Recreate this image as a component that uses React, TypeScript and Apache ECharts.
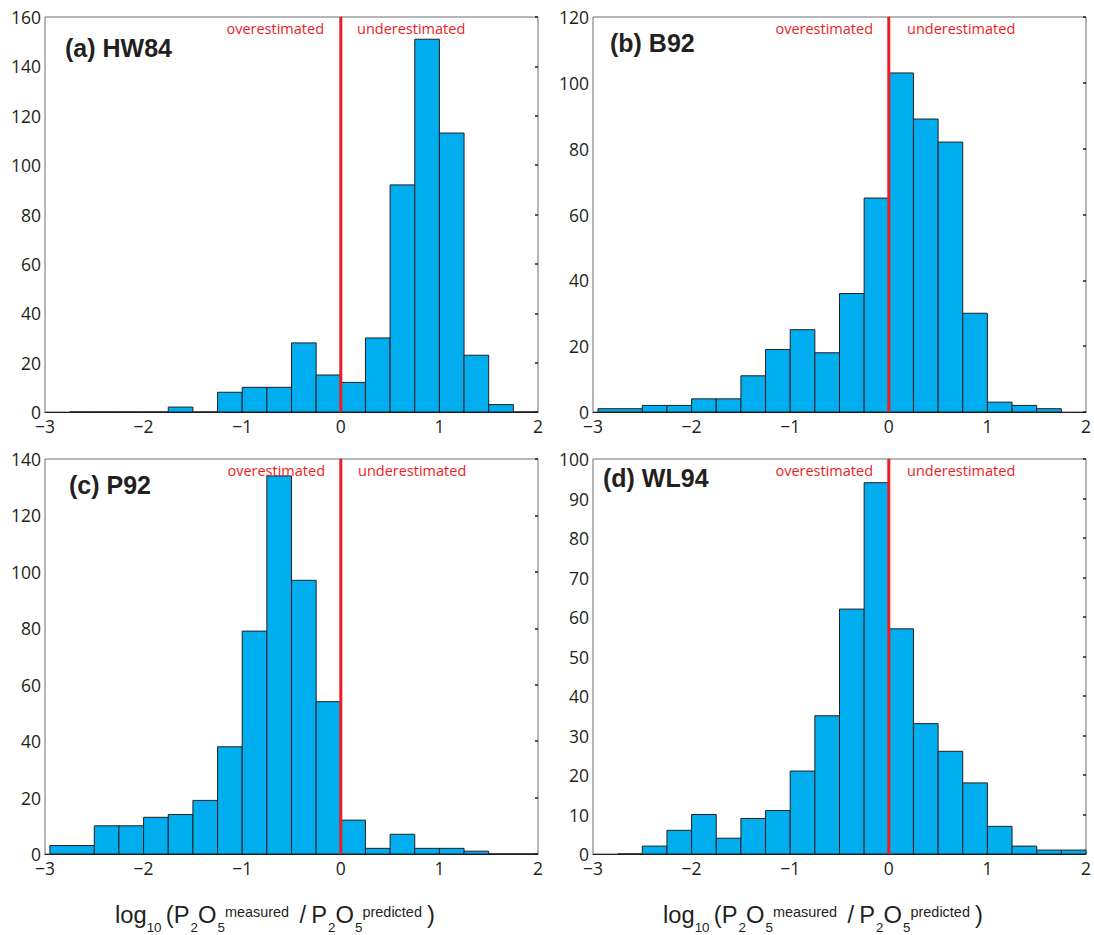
import React, { useEffect, useRef } from "react";
import * as echarts from "echarts";

// ---- data (bin edges along log10 ratio, counts per bin) ----
const edgesA = [-2.75, -2.5, -2.25, -2, -1.75, -1.5, -1.25, -1, -0.75, -0.5, -0.25, 0, 0.25, 0.5, 0.75, 1, 1.25, 1.5, 1.75, 2];
const countsA = [0, 0, 0, 0, 2, 0, 8, 10, 10, 28, 15, 12, 30, 92, 151, 113, 23, 3, 0];

const edgesB = [-2.95, -2.5, -2.25, -2, -1.75, -1.5, -1.25, -1, -0.75, -0.5, -0.25, 0, 0.25, 0.5, 0.75, 1, 1.25, 1.5, 1.75];
const countsB = [1, 2, 2, 4, 4, 11, 19, 25, 18, 36, 65, 103, 89, 82, 30, 3, 2, 1];

const edgesC = [-2.95, -2.5, -2.25, -2, -1.75, -1.5, -1.25, -1, -0.75, -0.5, -0.25, 0, 0.25, 0.5, 0.75, 1, 1.25, 1.5, 1.75, 2];
const countsC = [3, 10, 10, 13, 14, 19, 38, 79, 134, 97, 54, 12, 2, 7, 2, 2, 1, 0, 0];

const edgesD = [-2.75, -2.5, -2.25, -2, -1.75, -1.5, -1.25, -1, -0.75, -0.5, -0.25, 0, 0.25, 0.5, 0.75, 1, 1.25, 1.5, 1.75, 2];
const countsD = [0, 2, 6, 10, 4, 9, 11, 21, 35, 62, 94, 57, 33, 26, 18, 7, 2, 1, 1];

const panelTitles = ["(a) HW84", "(b) B92", "(c) P92", "(d) WL94"];
const yMaxes = [160, 120, 140, 100];
const yIntervals = [20, 20, 20, 10];
const xMin = -3;
const xMax = 2;
const xInterval = 1;
const dividerX = 0;
const leftNote = "overestimated";
const rightNote = "underestimated";

// ---- layout ----
const grids = [
  { left: 45, top: 17, width: 493, height: 395 },
  { left: 593, top: 17, width: 494, height: 395 },
  { left: 45, top: 459, width: 493, height: 395 },
  { left: 593, top: 459, width: 494, height: 395 },
];
const titlePos = [
  { x: 65, y: 48 },
  { x: 610, y: 43 },
  { x: 69, y: 485 },
  { x: 603, y: 478 },
];
const notePos = [
  { over: 324, under: 357, y: 28 },
  { over: 873, under: 907, y: 28 },
  { over: 325, under: 358, y: 470 },
  { over: 873, under: 907, y: 470 },
];
const xLabelCenters = [275, 823];
const xLabelBaseline = 923;

const DARK = "#231f20";
const FRAME = "#6d6e71";
const FILL = "#00aeef";
const RED = "#ed1c24";

function fmtX(v: number) {
  return v < 0 ? "\u2212" + Math.abs(v) : String(v);
}

function buildData(edges: number[], counts: number[]) {
  return counts.map((c, i) => [edges[i], edges[i + 1], c]);
}

function measure(text: string, font: string) {
  const c = document.createElement("canvas").getContext("2d");
  if (!c) return text.length * 10;
  c.font = font;
  return c.measureText(text).width;
}

function axisLabelGraphic(cx: number) {
  const FAM = '"Liberation Sans", Arial, sans-serif';
  const pieces = [
    { t: "log", s: 23, dy: 0, gap: 0 },
    { t: "10", s: 13, dy: 9, gap: 0 },
    { t: "(", s: 23, dy: 0, gap: 4 },
    { t: "P", s: 23, dy: 0, gap: 0 },
    { t: "2", s: 13, dy: 9, gap: 1 },
    { t: "O", s: 23, dy: 0, gap: 0 },
    { t: "5", s: 13, dy: 9, gap: 1 },
    { t: "measured", s: 14, dy: -6.5, gap: 0 },
    { t: "/", s: 23, dy: 0, gap: 10 },
    { t: "P", s: 23, dy: 0, gap: 5 },
    { t: "2", s: 13, dy: 9, gap: 1 },
    { t: "O", s: 23, dy: 0, gap: 0 },
    { t: "5", s: 13, dy: 9, gap: 1 },
    { t: "predicted", s: 14, dy: -6.5, gap: 0 },
    { t: ")", s: 23, dy: 0, gap: 5 },
  ];
  let x = 0;
  const items: any[] = [];
  pieces.forEach((p) => {
    x += p.gap;
    const font = `${p.s}px ${FAM}`;
    items.push({
      type: "text",
      x,
      y: p.dy - 0.3465 * p.s,
      style: {
        text: p.t,
        fontSize: p.s,
        fontFamily: FAM,
        fill: DARK,
        align: "left",
        verticalAlign: "middle",
      },
    });
    x += measure(p.t, font);
  });
  const targetW = 320;
  const sx = targetW / x;
  return {
    type: "group",
    x: cx - targetW / 2,
    y: xLabelBaseline,
    scaleX: sx,
    children: items,
  };
}

export default function App() {
  const ref = useRef<HTMLDivElement>(null);
  useEffect(() => {
    if (!ref.current) return;
    const chart = echarts.init(ref.current, undefined, { renderer: "svg" });
    const datasets = [
      buildData(edgesA, countsA),
      buildData(edgesB, countsB),
      buildData(edgesC, countsC),
      buildData(edgesD, countsD),
    ];
    const labelFont = '"Open Sans", sans-serif';

    const xAxis: any[] = [];
    const yAxis: any[] = [];
    const series: any[] = [];
    const graphic: any[] = [];

    grids.forEach((g, i) => {
      xAxis.push({
        type: "value",
        gridIndex: i,
        min: xMin,
        max: xMax,
        interval: xInterval,
        axisLine: { show: true, onZero: false, lineStyle: { color: DARK, width: 1 } },
        axisTick: { show: false },
        splitLine: { show: false },
        axisLabel: {
          formatter: fmtX,
          color: DARK,
          fontSize: 17.5,
          fontFamily: labelFont,
          margin: 5,
        },
      });
      yAxis.push({
        type: "value",
        gridIndex: i,
        position: "left",
        min: 0,
        max: yMaxes[i],
        interval: yIntervals[i],
        axisLine: { show: true, lineStyle: { color: DARK, width: 1 } },
        axisTick: { show: false },
        splitLine: { show: false },
        axisLabel: {
          color: DARK,
          fontSize: 17.5,
          fontFamily: labelFont,
          margin: 4,
        },
      });
      yAxis.push({
        type: "value",
        gridIndex: i,
        position: "right",
        min: 0,
        max: yMaxes[i],
        interval: yIntervals[i],
        axisLine: { show: false },
        axisTick: { show: true, inside: true, length: 3, lineStyle: { color: DARK, width: 1.5 } },
        splitLine: { show: false },
        axisLabel: { show: false },
      });
      series.push({
        type: "custom",
        xAxisIndex: i,
        yAxisIndex: i * 2,
        data: datasets[i],
        encode: { x: [0, 1], y: 2 },
        z: 2,
        renderItem: (params: any, api: any) => {
          const p0 = api.coord([api.value(0), api.value(2)]);
          const p1 = api.coord([api.value(1), 0]);
          return {
            type: "rect",
            shape: { x: p0[0], y: p0[1], width: p1[0] - p0[0], height: p1[1] - p0[1] },
            style: { fill: FILL, stroke: DARK, lineWidth: 1 },
          };
        },
      });
      series.push({
        type: "line",
        xAxisIndex: i,
        yAxisIndex: i * 2,
        data: [
          [dividerX, 0],
          [dividerX, yMaxes[i]],
        ],
        symbol: "none",
        lineStyle: { color: RED, width: 3 },
        z: 5,
        silent: true,
      });
      graphic.push({
        type: "text",
        x: titlePos[i].x,
        y: titlePos[i].y,
        style: {
          text: panelTitles[i],
          fontSize: 25,
          fontWeight: "bold",
          fontFamily: '"Liberation Sans", Arial, sans-serif',
          fill: DARK,
          align: "left",
          verticalAlign: "middle",
        },
        z: 10,
      });
      graphic.push({
        type: "text",
        x: notePos[i].over,
        y: notePos[i].y,
        style: {
          text: leftNote,
          fontSize: 14.5,
          fontFamily: labelFont,
          fill: RED,
          align: "right",
          verticalAlign: "middle",
        },
        z: 10,
      });
      graphic.push({
        type: "text",
        x: notePos[i].under,
        y: notePos[i].y,
        style: {
          text: rightNote,
          fontSize: 14.5,
          fontFamily: labelFont,
          fill: RED,
          align: "left",
          verticalAlign: "middle",
        },
        z: 10,
      });
    });

    xLabelCenters.forEach((cx) => graphic.push(axisLabelGraphic(cx)));

    chart.setOption({
      animation: false,
      backgroundColor: "#ffffff",
      grid: grids.map((g) => ({
        ...g,
        show: true,
        borderColor: FRAME,
        borderWidth: 1,
        backgroundColor: "transparent",
        containLabel: false,
      })),
      xAxis,
      yAxis,
      series,
      graphic,
    });
    return () => chart.dispose();
  }, []);
  return (
    <div
      ref={ref}
      style={{ position: "fixed", left: 0, top: 0, width: 1094, height: 935 }}
    />
  );
}
